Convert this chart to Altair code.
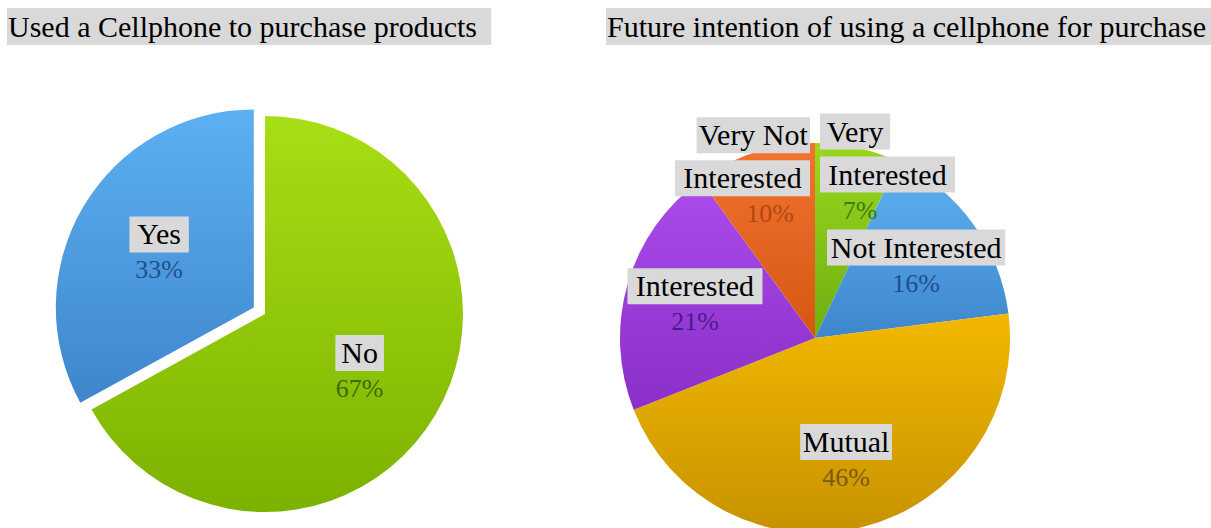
import json
import math
import altair as alt

# ---------------- data ----------------
left_names = ["No", "Yes"]
left_values = [67, 33]

right_names = ["Very\nInterested", "Not Interested", "Mutual", "Interested", "Very Not\nInterested"]
right_values = [7, 16, 46, 21, 10]

titles = ["Used a Cellphone to purchase products",
          "Future intention of using a cellphone for purchase"]

# ---------------- styles / layout ----------------
W, H = 1211, 528
FONT = "Liberation Serif"
LABEL_FS = 30
PCT_FS = 26
BOX_GREY = "#d9d9d9"

left_fills = [("#a8de14", "#7cb200"), ("#5cb0f2", "#3f86cc")]
left_pct = ["#3d6a00", "#1f4e8c"]
right_fills = [("#9ad81e", "#6fae10"), ("#60b2f2", "#3e86cc"), ("#f2b800", "#c79200"),
               ("#ab4cea", "#8a2fc8"), ("#f27430", "#d65612")]
right_pct = ["#3d7a10", "#1f4e8c", "#7a5a10", "#4a1a8a", "#b04812"]

xs = alt.Scale(domain=[0, W], range=[0, W], nice=False, zero=False)
ys = alt.Scale(domain=[0, H], range=[0, H], nice=False, zero=False)
ts = alt.Scale(domain=[0, 1], range=[0, 2 * math.pi])


def rows(names, values):
    out = []
    for i, (n, v) in enumerate(zip(names, values)):
        parts = n.split("\n")
        out.append({"name": n.replace("\n", " "), "value": v, "order": i,
                    "lines": parts, "li": list(range(len(parts)))})
    return out


def pie(names, values, cx, cy, r, R, exploded, fills, pct_cols):
    ex_expr = (f"indexof({json.dumps(exploded)}, datum.name) >= 0 ? 13 : 0"
               if exploded else "0")
    base = (alt.Chart(alt.Data(values=rows(names, values)))
            .transform_window(cum="sum(value)", sort=[alt.SortField("order")], frame=[None, 0])
            .transform_joinaggregate(total="sum(value)")
            .transform_calculate(f0="(datum.cum - datum.value) / datum.total")
            .transform_calculate(f1="datum.cum / datum.total")
            .transform_calculate(mid="2 * PI * (datum.cum - datum.value / 2) / datum.total")
            .transform_calculate(small="datum.value / datum.total < 0.12")
            .transform_calculate(side="sin(datum.mid) > 0 ? 1 : -1")
            .transform_calculate(ex=ex_expr)
            .transform_calculate(ax=f"{cx} + datum.ex * sin(datum.mid)")
            .transform_calculate(ay=f"{cy} - datum.ex * cos(datum.mid)")
            .transform_calculate(rl=f"datum.small ? {R} + 25 : {R}")
            .transform_calculate(lx="datum.ax + datum.rl * sin(datum.mid)")
            .transform_calculate(ly="datum.ay - datum.rl * cos(datum.mid)"))

    layers = []
    for i, (top, bot) in enumerate(fills):
        grad = alt.LinearGradient(
            gradient="linear",
            stops=[alt.GradientStop(offset=0, color=top), alt.GradientStop(offset=1, color=bot)],
            x1=0, x2=0, y1=0, y2=1)
        layers.append(
            base.transform_filter(f"datum.order == {i}")
            .mark_arc(outerRadius=r, color=grad)
            .encode(theta=alt.Theta("f0:Q", scale=ts), theta2="f1:Q",
                    x=alt.X("ax:Q", scale=xs, axis=None),
                    y=alt.Y("ay:Q", scale=ys, axis=None)))

    lab = (base.transform_calculate(nl="length(datum.lines)")
           .transform_flatten(["lines", "li"])
           .transform_calculate(yl="datum.ly - 17 - (datum.nl - 1 - datum.li) * 43")
           .transform_calculate(bw=f"(length(datum.lines) * 0.36 + 0.9) * {LABEL_FS}")
           # small slices: block pushed to the side, away from the vertical axis
           .transform_calculate(bcx="datum.small ? datum.ax + datum.side * (5 + datum.bw / 2)"
                                    " : datum.lx")
           .transform_calculate(bx1="datum.bcx - datum.bw / 2")
           .transform_calculate(bx2="datum.bcx + datum.bw / 2")
           .transform_calculate(by1="datum.yl - 18")
           .transform_calculate(by2="datum.yl + 18")
           .transform_calculate(tyl="datum.yl + 10"))
    layers.append(lab.mark_rect(color=BOX_GREY).encode(
        x=alt.X("bx1:Q", scale=xs, axis=None), x2="bx2:Q",
        y=alt.Y("by1:Q", scale=ys, axis=None), y2="by2:Q"))
    layers.append(lab.mark_text(font=FONT, fontSize=LABEL_FS, color="black",
                                baseline="alphabetic", align="center").encode(
        x=alt.X("bcx:Q", scale=xs, axis=None),
        y=alt.Y("tyl:Q", scale=ys, axis=None),
        text="lines:N"))

    pct = (base.transform_calculate(py="datum.ly + 27")
           .transform_calculate(px="datum.small ? datum.ax + datum.side * 45 : datum.lx")
           .transform_calculate(pcol=f"{json.dumps(pct_cols)}[datum.order]")
           .transform_calculate(ptxt="format(datum.value / datum.total, '.0%')"))
    layers.append(pct.mark_text(font=FONT, fontSize=PCT_FS, baseline="alphabetic",
                                align="center").encode(
        x=alt.X("px:Q", scale=xs, axis=None),
        y=alt.Y("py:Q", scale=ys, axis=None),
        text="ptxt:N",
        color=alt.Color("pcol:N", scale=None)))
    return layers


# titles with grey highlight
tbase = (alt.Chart(alt.Data(values=[{"title": t, "panel": i} for i, t in enumerate(titles)]))
         .transform_calculate(tx="[8, 607][datum.panel]")
         .transform_calculate(tx1="datum.tx - 1")
         .transform_calculate(tx2=f"datum.tx + length(datum.title) * 0.42 * {LABEL_FS} + 17"))
title_box = tbase.mark_rect(color=BOX_GREY).encode(
    x=alt.X("tx1:Q", scale=xs, axis=None), x2="tx2:Q",
    y=alt.value(8), y2=alt.value(45))
title_txt = tbase.mark_text(font=FONT, fontSize=LABEL_FS, color="black",
                            align="left", baseline="alphabetic").encode(
    x=alt.X("tx:Q", scale=xs, axis=None), y=alt.value(37), text="title:N")

layers = [title_box, title_txt]
layers += pie(left_names, left_values, 265, 314, 198, 110, ["Yes"], left_fills, left_pct)
layers += pie(right_names, right_values, 815, 338, 195, 125, [], right_fills, right_pct)

chart = (alt.layer(*layers)
         .properties(width=W, height=H, padding=0,
                     autosize=alt.AutoSizeParams(type="none"), background="white")
         .configure_view(stroke=None))

chart.save("out.html", embed_options={"renderer": "svg", "actions": False})
